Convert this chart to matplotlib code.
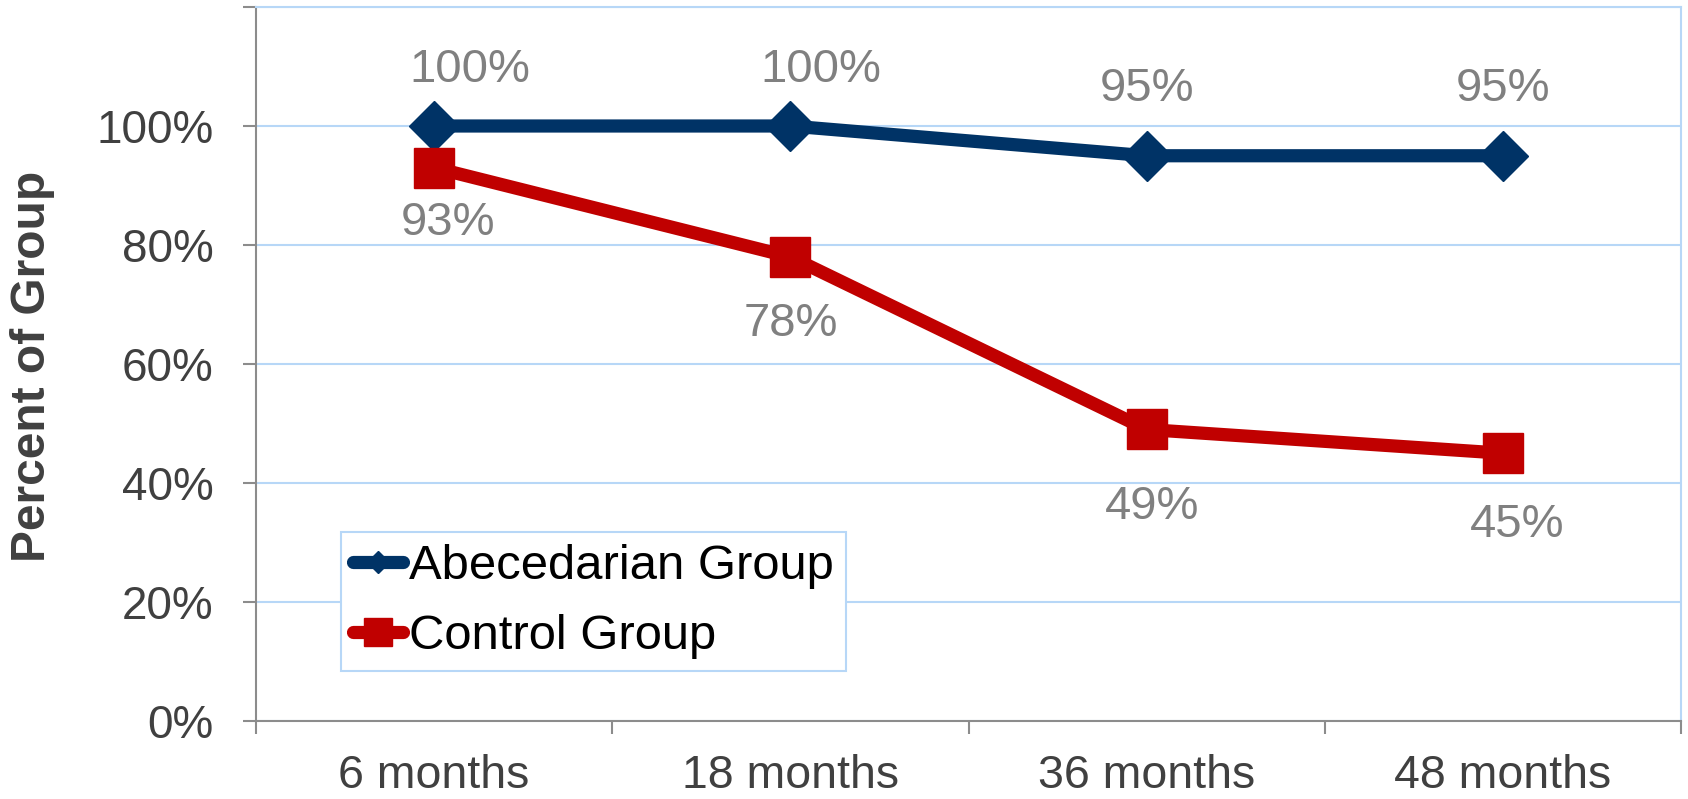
import matplotlib
matplotlib.use("Agg")
import matplotlib.pyplot as plt
from matplotlib.lines import Line2D

plt.rcParams['font.family'] = ['Liberation Sans', 'DejaVu Sans']

categories = ["6 months", "18 months", "36 months", "48 months"]
abecedarian = [100, 100, 95, 95]
control = [93, 78, 49, 45]
series_names = ["Abecedarian Group", "Control Group"]
y_ticks = [0, 20, 40, 60, 80, 100, 120]
y_tick_labels = ["0%", "20%", "40%", "60%", "80%", "100%", ""]

# label nudges in points (dx, dy)
abc_label_off = [(26, 40), (22, 40), (0, 48), (0, 48)]
ctl_label_off = [(10, -40), (0, -48), (4, -56), (10, -52)]

blue = "#003366"
red = "#C00000"
grid_c = "#B7D7F7"
axis_c = "#8C8C8C"

fig = plt.figure(figsize=(16.88, 7.99), dpi=100)
ax = fig.add_axes([256/1688, 1-721/799, 1425/1688, 714/799])

x = list(range(len(categories)))
ax.plot(x, abecedarian, color=blue, lw=9.5, marker='D', ms=25, zorder=3)
ax.plot(x, control, color=red, lw=9.5, marker='s', ms=29.5, zorder=3)

for i, v in enumerate(abecedarian):
    ax.annotate(f"{v}%", (i, v), xytext=abc_label_off[i], textcoords='offset points',
                ha='center', va='center', fontsize=34, color="#808080")
for i, v in enumerate(control):
    ax.annotate(f"{v}%", (i, v), xytext=ctl_label_off[i], textcoords='offset points',
                ha='center', va='center', fontsize=34, color="#808080")

ax.set_xlim(-0.5, len(categories) - 0.5)
ax.set_ylim(0, 120)
ax.set_yticks(y_ticks)
ax.set_yticklabels(y_tick_labels)
ax.set_xticks([i - 0.5 for i in range(len(categories) + 1)])
ax.set_xticklabels([])
ax.set_xticks(x, minor=True)
ax.set_xticklabels(categories, minor=True)

ax.tick_params(axis='y', direction='out', length=9.5, width=1.5, color=axis_c,
               labelsize=33, labelcolor="#404040", pad=21)
ax.tick_params(axis='x', which='major', direction='out', length=9.5, width=1.5, color=axis_c)
ax.tick_params(axis='x', which='minor', length=0, labelsize=33.5, labelcolor="#404040", pad=24)

ax.yaxis.grid(True, color=grid_c, lw=1.5)
ax.set_axisbelow(True)
for s in ['left', 'bottom']:
    ax.spines[s].set_color(axis_c)
    ax.spines[s].set_linewidth(1.5)
for s in ['top', 'right']:
    ax.spines[s].set_color(grid_c)
    ax.spines[s].set_linewidth(1.5)

fig.text(33/1688, 1-366/799, "Percent of Group", rotation=90, ha='center', va='center',
         fontsize=34.5, fontweight='bold', color="#404040")

# legend handles: smaller markers than in the plot
handles = [Line2D([], [], color=blue, lw=9.5, marker='D', ms=11.5, solid_capstyle='round'),
           Line2D([], [], color=red, lw=9.5, marker='s', ms=19.5, solid_capstyle='round')]
leg = ax.legend(handles, series_names, loc='lower left', bbox_to_anchor=(85/1425, 50/714),
                borderaxespad=0, fontsize=35.3, handlelength=1.02, handletextpad=0.12,
                labelspacing=0.5, borderpad=0.25, fancybox=False, framealpha=1)
leg.get_frame().set_edgecolor(grid_c)
leg.get_frame().set_linewidth(1.5)

fig.savefig("out.png", dpi=100)
